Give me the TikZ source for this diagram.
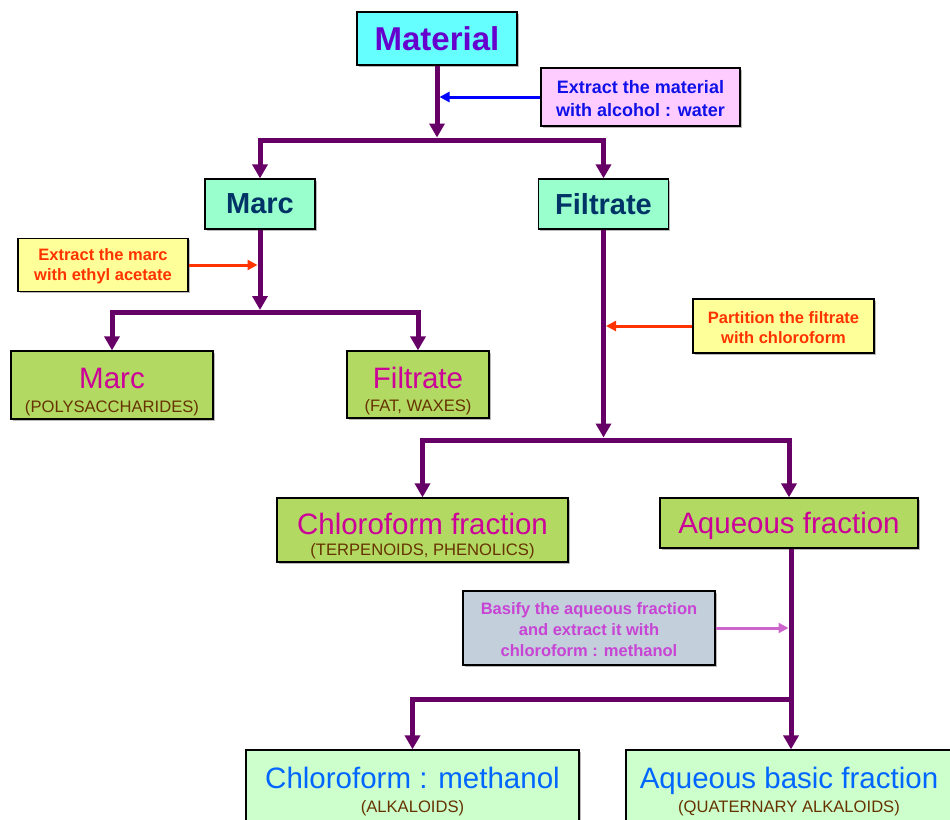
\documentclass[tikz,border=0pt]{standalone}
\usepackage{fontspec}
\setmainfont{Liberation Sans}
\usetikzlibrary{arrows.meta,shadows}
\definecolor{flowline}{HTML}{660066}
\definecolor{matfill}{HTML}{66FFFF}
\definecolor{mattext}{HTML}{6600CC}
\definecolor{pinkfill}{HTML}{FFCCFF}
\definecolor{bluetext}{HTML}{1010E8}
\definecolor{mintfill}{HTML}{99FFCC}
\definecolor{navytext}{HTML}{003366}
\definecolor{yelfill}{HTML}{FFFF99}
\definecolor{redtext}{HTML}{FF3300}
\definecolor{olivefill}{HTML}{B2D962}
\definecolor{magtext}{HTML}{CC0099}
\definecolor{subbrown}{HTML}{663300}
\definecolor{grayfill}{HTML}{C3CFDB}
\definecolor{violettext}{HTML}{C844D4}
\definecolor{violetarrow}{HTML}{CC66CC}
\definecolor{palefill}{HTML}{CCFFCC}
\definecolor{skytext}{HTML}{0066FF}
\newcommand\mysubtext[1]{{\fontsize{16.6}{20}\selectfont\color{subbrown}#1}}
\begin{document}
\begin{tikzpicture}[x=1pt,y=-1pt,
  box/.style={draw=black,line width=1.3pt,inner sep=0pt,align=center,
    drop shadow={shadow xshift=1.5pt,shadow yshift=-1.5pt,fill=black!45,opacity=0.6}},
  small/.style={font=\bfseries\fontsize{16.5}{20}\selectfont},
  big/.style={font=\fontsize{29.5}{20}\selectfont},
  main/.style={draw=flowline,line width=5pt},
  maintip/.style={-{Triangle[length=14pt,width=15pt]}},
  sidearr/.style={line width=3pt,-{Triangle[length=10pt,width=10pt]},shorten >=2.5pt}]
\useasboundingbox (0,0) rectangle (950,819);
\clip (0,0) rectangle (950,819);

% top level
\node[box,fill=matfill,minimum width=160pt,minimum height=53pt,text=mattext,
      font=\bfseries\fontsize{33}{36}\selectfont] (mat) at (437,38.5) {Material};
\node[box,small,fill=pinkfill,minimum width=199pt,minimum height=58pt,text=bluetext,
      font=\bfseries\fontsize{18}{23}\selectfont] (ext1) at (640.5,97) {\rule{0pt}{17pt}Extract the material\\with alcohol : water};

\node[box,fill=mintfill,minimum width=110pt,minimum height=50pt,text=navytext,
      font=\bfseries\fontsize{29}{32}\selectfont] (marc) at (260,204) {Marc};
\node[box,fill=mintfill,minimum width=130pt,minimum height=50pt,text=navytext,
      font=\bfseries\fontsize{29}{32}\selectfont] (filt) at (603.5,204) {Filtrate};

\node[box,small,fill=yelfill,minimum width=170pt,minimum height=53pt,text=redtext] (ext2) at (103,265) {\rule{0pt}{15pt}Extract the marc\\with ethyl acetate};
\node[box,small,fill=yelfill,minimum width=181pt,minimum height=54pt,text=redtext] (part) at (783.5,326) {\rule{0pt}{15pt}Partition the filtrate\\with chloroform};

\node[box,big,fill=olivefill,minimum width=202pt,minimum height=68pt,text=magtext] (marc2) at (112,385)
  {\rule{0pt}{34pt}Marc\\[3.5pt]\mysubtext{(POLYSACCHARIDES)}};
\node[box,big,fill=olivefill,minimum width=142pt,minimum height=67pt,text=magtext] (filt2) at (418,384.5)
  {\rule{0pt}{34pt}Filtrate\\[3.5pt]\mysubtext{(FAT, WAXES)}};

\node[box,big,fill=olivefill,minimum width=291pt,minimum height=64pt,text=magtext] (chl) at (422.5,530)
  {\rule{0pt}{33pt}Chloroform fraction\\[0.5pt]\mysubtext{(TERPENOIDS, PHENOLICS)}};
\node[box,big,fill=olivefill,minimum width=258pt,minimum height=50pt,text=magtext,
      text height=21pt,text depth=0pt] (aq) at (789,523) {Aqueous fraction};

\node[box,small,fill=grayfill,minimum width=252pt,minimum height=74pt,text=violettext,
      font=\bfseries\fontsize{16.5}{21}\selectfont] (bas) at (589,628)
  {\rule{0pt}{15pt}Basify the aqueous fraction\\and extract it with\\chloroform : methanol};

\node[box,big,fill=palefill,minimum width=333pt,minimum height=79pt,text=skytext] (cm) at (412.5,789.5)
  {\rule{0pt}{25pt}Chloroform : methanol\\[3.5pt]\mysubtext{(ALKALOIDS)}};
\node[box,big,fill=palefill,minimum width=326pt,minimum height=79pt,text=skytext] (abf) at (789,789.5)
  {\rule{0pt}{25pt}Aqueous basic fraction\\[3.5pt]\mysubtext{(QUATERNARY ALKALOIDS)}};

% junctions
\coordinate (j1) at (437,140);
\coordinate (a1) at (437,137.5);
\coordinate (j2) at (260,312.5);
\coordinate (a2) at (260,310);
\coordinate (j3) at (603.5,440);
\coordinate (a3) at (603.5,437.5);
\coordinate (j4) at (791,699);

% main flow
\draw[main,maintip] (mat.south) -- (a1);
\draw[main,maintip] (j1) -| (marc.north);
\draw[main,maintip] (j1) -| (filt.north);

\draw[main,maintip] (marc.south) -- (a2);
\draw[main,maintip] (j2) -| (marc2.north);
\draw[main,maintip] (j2) -| (filt2.north);

\draw[main,maintip] (filt.south) -- (a3);
\draw[main,maintip] (j3) -| (chl.north);
\draw[main,maintip] (j3) -| (aq.north);

\draw[main,maintip] (aq.south -| j4) -- (abf.north -| j4);
\draw[main,maintip] (j4) -| (cm.north);

% side arrows
\draw[sidearr,draw=blue,fill=blue] (ext1.west) -- (ext1.west -| mat.south);
\draw[sidearr,draw=redtext,fill=redtext] (ext2.east) -- (ext2.east -| marc.south);
\draw[sidearr,draw=redtext,fill=redtext] (part.west) -- (part.west -| filt.south);
\draw[sidearr,draw=violetarrow,fill=violetarrow] (bas.east) -- (bas.east -| j4);
\end{tikzpicture}
\end{document}
